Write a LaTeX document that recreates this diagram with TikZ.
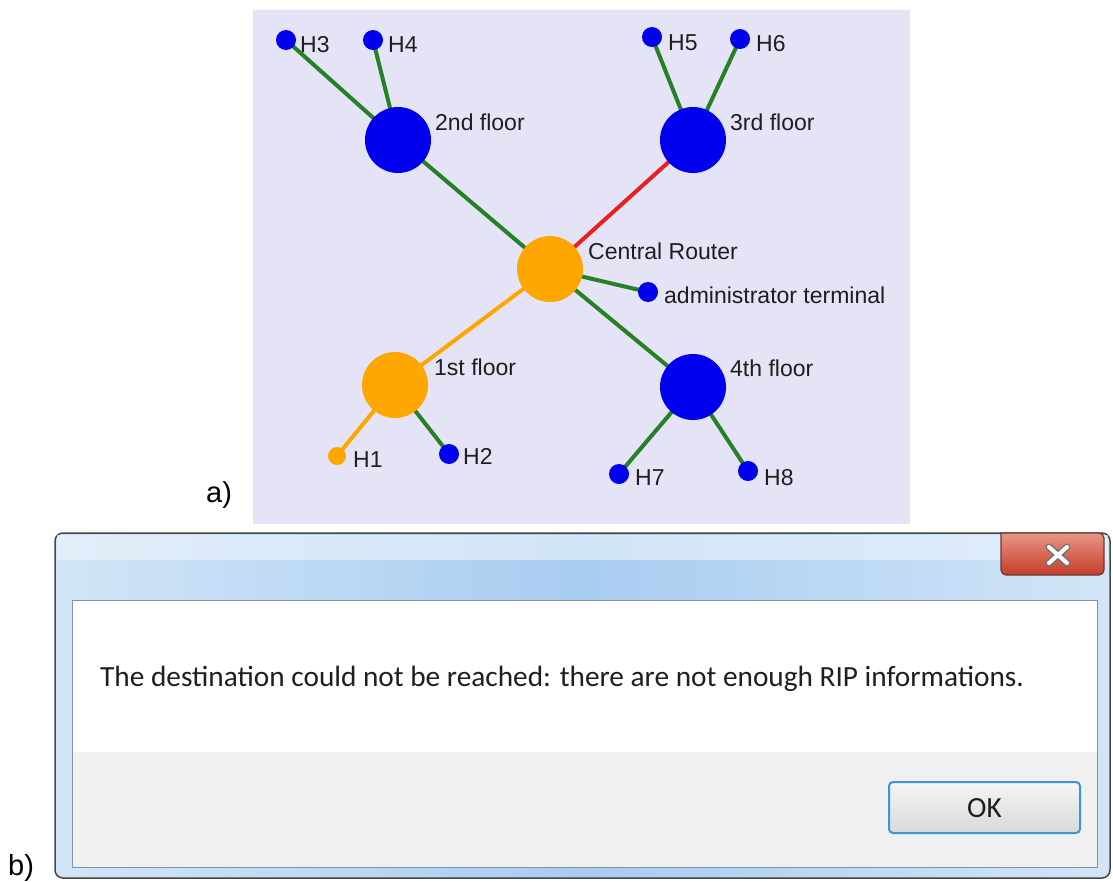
\documentclass[tikz,border=0pt]{standalone}
\usepackage{fontspec}
\setmainfont{Liberation Sans}
\newfontfamily\uifont{Carlito}
\definecolor{panelbg}{RGB}{228,228,246}
\definecolor{netblue}{RGB}{0,0,238}
\definecolor{netorange}{RGB}{255,166,0}
\definecolor{netgreen}{RGB}{38,128,38}
\definecolor{netred}{RGB}{232,32,32}
\definecolor{labelink}{RGB}{30,30,30}
\definecolor{frameedge}{RGB}{70,70,70}
\definecolor{framelight}{RGB}{210,229,247}
\definecolor{framemid}{RGB}{168,204,240}
\definecolor{innerline}{RGB}{130,145,165}
\definecolor{footergray}{RGB}{240,240,240}
\definecolor{okborder}{RGB}{60,150,210}
\definecolor{closetop}{RGB}{232,150,135}
\definecolor{closebot}{RGB}{196,60,40}
\pgfdeclarelayer{back}
\pgfdeclarelayer{edges}
\pgfsetlayers{back,edges,main}
\tikzset{
  hub/.style={circle, minimum size=66pt, inner sep=0pt},
  host/.style={circle, minimum size=20pt, inner sep=0pt, fill=netblue},
  lbl/.style={anchor=base west, inner sep=0pt, text=labelink, font=\fontsize{23}{27}\selectfont},
  tag/.style={anchor=base west, inner sep=0pt, text=black, font=\fontsize{29}{33}\selectfont},
  link/.style={line width=4pt, netgreen},
  uitext/.style={inner sep=0pt, text=black!88, font=\uifont\fontsize{29.3}{33}\selectfont}
}
\begin{document}
\begin{tikzpicture}[x=1pt,y=-1pt]
\useasboundingbox (0,0) rectangle (1113,881);

% ---------- a) network view ----------
\begin{pgfonlayer}{back}
  \fill[panelbg] (253,10) rectangle (910,524);
\end{pgfonlayer}

\node[hub, fill=netorange] (router) at (550,269) {};
\node[hub, fill=netblue]   (f2) at (398,140) {};
\node[hub, fill=netblue]   (f3) at (693,140) {};
\node[hub, fill=netorange] (f1) at (395,385) {};
\node[hub, fill=netblue]   (f4) at (693,387) {};

\node[host] (h3) at (286,40) {};
\node[host] (h4) at (373,40) {};
\node[host] (h5) at (652,37) {};
\node[host] (h6) at (740,39) {};
\node[host] (admin) at (648,292) {};
\node[host, fill=netorange, minimum size=18pt] (h1) at (337,456) {};
\node[host] (h2) at (449,454) {};
\node[host] (h7) at (619,474) {};
\node[host] (h8) at (748,471) {};

\begin{pgfonlayer}{edges}
  \draw[link] (h3.center) -- (f2.center);
  \draw[link] (h4.center) -- (f2.center);
  \draw[link] (f2.center) -- (router.center);
  \draw[link] (h5.center) -- (f3.center);
  \draw[link] (h6.center) -- (f3.center);
  \draw[link, netred] (f3.center) -- (router.center);
  \draw[link] (router.center) -- (admin.center);
  \draw[link] (router.center) -- (f4.center);
  \draw[link, netorange] (router.center) -- (f1.center);
  \draw[link, netorange] (f1.center) -- (h1.center);
  \draw[link] (f1.center) -- (h2.center);
  \draw[link] (f4.center) -- (h7.center);
  \draw[link] (f4.center) -- (h8.center);
\end{pgfonlayer}

\node[lbl] (lh3) at (300,52) {H3};
\node[lbl] (lh4) at (388,52) {H4};
\node[lbl] (lf2) at (435,130) {2nd floor};
\node[lbl] (lh5) at (668,50) {H5};
\node[lbl] (lh6) at (756,51) {H6};
\node[lbl] (lf3) at (730,130) {3rd floor};
\node[lbl] (lrouter) at (588,259) {Central Router};
\node[lbl] (ladmin) at (664,303) {administrator terminal};
\node[lbl] (lf1) at (434,375) {1st floor};
\node[lbl] (lf4) at (730,376) {4th floor};
\node[lbl] (lh1) at (353,467) {H1};
\node[lbl] (lh2) at (463,464) {H2};
\node[lbl] (lh7) at (635,485) {H7};
\node[lbl] (lh8) at (764,485) {H8};

\node[tag] (taga) at (206,502) {a)};
\node[tag] (tagb) at (8,875) {b)};

% ---------- b) message box ----------
\shade[left color=framelight, right color=framelight, middle color=framemid,
       draw=frameedge, line width=1.5pt, rounded corners=8pt]
  (55,533) rectangle (1110,878);
\fill[white!60!framelight, opacity=0.6] (57,535) rectangle (1108,560);
% close button
\shade[top color=closetop, bottom color=closebot, draw=frameedge!80!red, line width=1.2pt]
  [rounded corners=5pt] (1001,533) -- (1001,575) -- (1104,575) -- (1104,533) [sharp corners] -- cycle;
\draw[black!55, line width=7pt, line cap=round] (1049,547) -- (1067,563) (1067,547) -- (1049,563);
\draw[white, line width=4pt, line cap=round] (1049,547) -- (1067,563) (1067,547) -- (1049,563);
% content area
\fill[white] (72,600) rectangle (1097,752);
\fill[footergray] (72,752) rectangle (1097,867);
\draw[innerline, line width=1pt] (72,600) rectangle (1097,867);

\node[uitext, anchor=base west] (msg) at (100,686)
  {The destination could not be reached: there are not enough RIP informations.};

\shade[top color=black!4, bottom color=black!15, draw=okborder, line width=2pt, rounded corners=4pt]
  (889,782) rectangle (1080,833);
\node[uitext, anchor=base] (ok) at (984.5,817) {OK};
\end{tikzpicture}
\end{document}
